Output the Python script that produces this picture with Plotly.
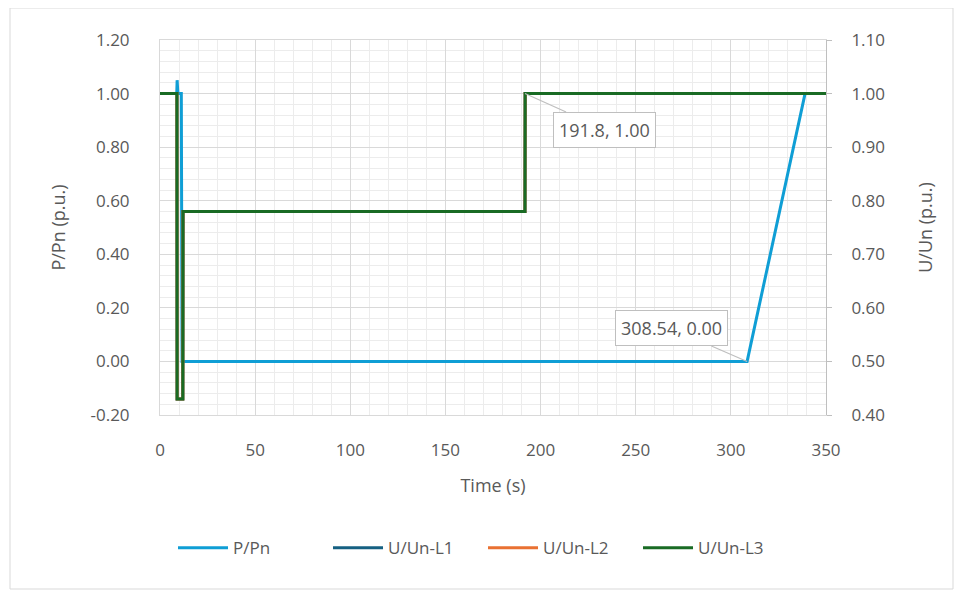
import plotly.graph_objects as go

# Data
t_p = [0, 8.8, 9.0, 9.4, 11.2, 11.6, 308.54, 339, 350]
p_pn = [1.0, 1.0, 1.05, 1.0, 1.0, 0.0, 0.0, 1.0, 1.0]

t_u = [0, 8.9, 9.0, 12.0, 12.1, 191.8, 191.9, 350]
u_l1 = [1.0, 1.0, 0.43, 0.43, 0.78, 0.78, 1.0, 1.0]
u_l2 = [1.0, 1.0, 0.43, 0.43, 0.78, 0.78, 1.0, 1.0]
u_l3 = [1.0, 1.0, 0.43, 0.43, 0.78, 0.78, 1.0, 1.0]

x_ticks = [0, 50, 100, 150, 200, 250, 300, 350]
y1_ticks = [-0.2, 0.0, 0.2, 0.4, 0.6, 0.8, 1.0, 1.2]
y1_labels = ["-0.20", "0.00", "0.20", "0.40", "0.60", "0.80", "1.00", "1.20"]
y2_ticks = [0.4, 0.5, 0.6, 0.7, 0.8, 0.9, 1.0, 1.1]
y2_labels = ["0.40", "0.50", "0.60", "0.70", "0.80", "0.90", "1.00", "1.10"]

FONT = "Open Sans"
GREY = "#595959"

W, H = 954, 583
L, T, PW, PH = 152, 32, 666, 375

fig = go.Figure()
fig.add_trace(go.Scatter(x=t_p, y=p_pn, name="P/Pn", mode="lines",
                         line=dict(color="#0F9ED5", width=3), yaxis="y"))
fig.add_trace(go.Scatter(x=t_u, y=u_l1, name="U/Un-L1", mode="lines",
                         line=dict(color="#156082", width=3), yaxis="y2"))
fig.add_trace(go.Scatter(x=t_u, y=u_l2, name="U/Un-L2", mode="lines",
                         line=dict(color="#E97132", width=3), yaxis="y2"))
fig.add_trace(go.Scatter(x=t_u, y=u_l3, name="U/Un-L3", mode="lines",
                         line=dict(color="#196B24", width=3), yaxis="y2"))

fig.update_layout(
    width=W, height=H,
    margin=dict(l=L, r=W - L - PW, t=T, b=H - T - PH),
    paper_bgcolor="white", plot_bgcolor="white",
    font=dict(family=FONT, size=17, color=GREY),
    showlegend=True,
    legend=dict(orientation="h", x=0.485, xanchor="center", y=-0.355, yanchor="middle",
                font=dict(size=17, color=GREY), itemwidth=50, entrywidth=90,
                traceorder="normal"),
    xaxis=dict(range=[0, 350], tickvals=x_ticks, showgrid=True, gridcolor="#d9d9d9", gridwidth=1,
               minor=dict(dtick=10, showgrid=True, gridcolor="#ececec", gridwidth=1),
               showline=True, linecolor="#d9d9d9", mirror=True, zeroline=False, ticks="",
               ticklabelstandoff=20,
               title=dict(text="Time (s)", font=dict(size=18, color=GREY), standoff=18)),
    yaxis=dict(range=[-0.2, 1.2], tickvals=y1_ticks, ticktext=y1_labels, showgrid=True,
               gridcolor="#d9d9d9", gridwidth=1,
               minor=dict(dtick=0.04, tick0=-0.2, showgrid=True, gridcolor="#ececec", gridwidth=1),
               showline=True, linecolor="#d9d9d9", mirror=True, zeroline=False, ticks="",
               ticklabelstandoff=26,
               title=dict(text="P/Pn (p.u.)", font=dict(size=18, color=GREY), standoff=20)),
    yaxis2=dict(range=[0.4, 1.1], tickvals=y2_ticks, ticktext=y2_labels, overlaying="y", side="right",
                showgrid=False, zeroline=False, showline=True, linecolor="#bfbfbf",
                ticks="outside", ticklen=5, tickcolor="#bfbfbf", ticklabelstandoff=16,
                title=dict(text="U/Un (p.u.)", font=dict(size=18, color=GREY), standoff=35)),
)

fig.add_annotation(x=191.8, y=1.0, xref="x", yref="y2", text="191.8, 1.00", showarrow=True,
                   arrowhead=0, arrowwidth=1.2, arrowcolor="#bfbfbf", ax=80, ay=36,
                   bgcolor="white", bordercolor="#bfbfbf", borderwidth=1, borderpad=5,
                   font=dict(size=18, color=GREY))
fig.add_annotation(x=308.54, y=0.0, xref="x", yref="y", text="308.54, 0.00", showarrow=True,
                   arrowhead=0, arrowwidth=1.2, arrowcolor="#bfbfbf", ax=-76, ay=-33,
                   bgcolor="white", bordercolor="#bfbfbf", borderwidth=1, borderpad=5,
                   font=dict(size=18, color=GREY))

fig.add_shape(type="rect", xref="paper", yref="paper",
              x0=(2 - L) / PW, x1=(945 - L) / PW,
              y0=(T + PH - 581) / PH, y1=(T + PH - 0) / PH,
              line=dict(color="#d9d9d9", width=1), fillcolor="rgba(0,0,0,0)", layer="below")

fig.write_html("out.html")
